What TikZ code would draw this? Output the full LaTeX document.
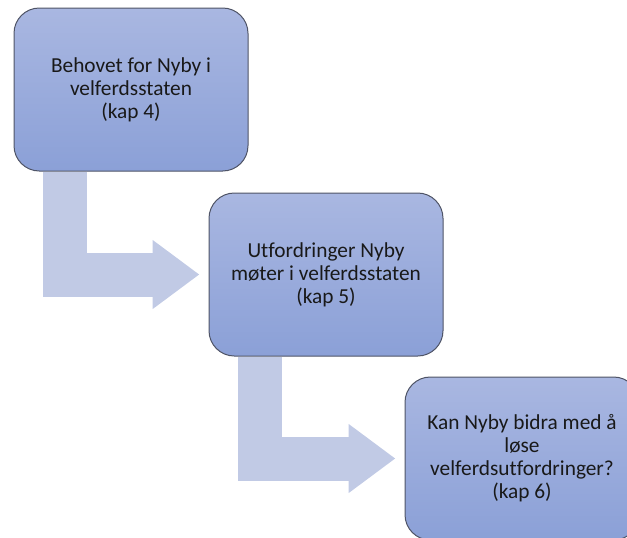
\documentclass[tikz,border=0pt]{standalone}
\usepackage{fontspec}
\setmainfont{Carlito}[Ligatures=NoCommon]
\usetikzlibrary{arrows.meta, positioning}
\definecolor{colorBoxTop}{HTML}{A9B7E1}
\definecolor{colorBoxBottom}{HTML}{8BA0D7}
\definecolor{colorBorder}{HTML}{4F5466}
\definecolor{colorFlow}{HTML}{C1CAE5}
\tikzset{
  chapter/.style={draw=colorBorder, line width=0.75pt, rounded corners=19pt,
    top color=colorBoxTop, bottom color=colorBoxBottom,
    minimum width=175.5pt, minimum height=122.25pt, align=center,
    font=\fontsize{16}{17.25}\selectfont, text=black!90},
  flow/.style={colorFlow, line width=33pt, line join=miter,
    -{Triangle[length=35.25pt, width=49.5pt]}},
}

\begin{document}
\begin{tikzpicture}[x=0.75pt, y=-0.75pt]
\clip (0,0) rectangle (627,537);
\node[chapter] (kap4) at (131,89.5) {Behovet for Nyby i\\velferdsstaten\\(kap 4)};
\node[chapter, below right=15.75pt and -30pt of kap4] (kap5) {Utfordringer Nyby\\møter i velferdsstaten\\(kap 5)};
\node[chapter, below right=15pt and -29.25pt of kap5] (kap6) {Kan Nyby bidra med å\\løse\\velferdsutfordringer?\\(kap 6)};
% arrows between chapters
\draw[flow] ([xshift=38.25pt]kap4.south west) |- ([xshift=-6.75pt]kap5.west);
\draw[flow] ([xshift=38.25pt]kap5.south west) |- ([xshift=-6.75pt]kap6.west);
\end{tikzpicture}
\end{document}
